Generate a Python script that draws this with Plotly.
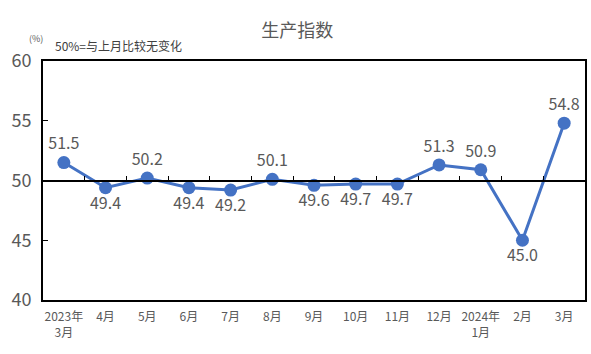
import plotly.graph_objects as go

months = ["2023年<br>3月", "4月", "5月", "6月", "7月", "8月", "9月", "10月", "11月", "12月",
          "2024年<br>1月", "2月", "3月"]
values = [51.5, 49.4, 50.2, 49.4, 49.2, 50.1, 49.6, 49.7, 49.7, 51.3, 50.9, 45.0, 54.8]
labels = ["51.5", "49.4", "50.2", "49.4", "49.2", "50.1", "49.6", "49.7", "49.7", "51.3", "50.9", "45.0", "54.8"]
label_pos = ["top center", "bottom center", "top center", "bottom center", "bottom center",
             "top center", "bottom center", "bottom center", "bottom center", "top center",
             "top center", "bottom center", "top center"]
y_ticks = [40, 45, 50, 55, 60]

FONT = "Noto Sans CJK SC, Noto Sans, sans-serif"
GRAY = "#595959"
BLUE = "#4472C4"

fig = go.Figure()
fig.add_trace(go.Scatter(
    x=months, y=values, mode="lines+markers+text",
    line=dict(color=BLUE, width=3),
    marker=dict(color=BLUE, size=13),
    text=labels, textposition=label_pos,
    textfont=dict(family=FONT, size=16, color=GRAY),
    cliponaxis=False, hoverinfo="skip", showlegend=False,
))
# invisible trace to anchor the 50-line axis
fig.add_trace(go.Scatter(
    x=months, y=values, xaxis="x2", mode="markers",
    marker=dict(opacity=0), hoverinfo="skip", showlegend=False,
))

fig.update_layout(
    width=591, height=354,
    margin=dict(l=43, r=4, t=61, b=54),
    paper_bgcolor="white", plot_bgcolor="white",
    font=dict(family=FONT, color=GRAY),
    title=dict(text="生产指数", x=0.503, xanchor="center", y=0.912, yanchor="middle",
               font=dict(family=FONT, size=18, color=GRAY)),
    xaxis=dict(
        type="category", categoryorder="array", categoryarray=months,
        range=[-0.5, len(months) - 0.5],
        showline=True, mirror=True, linecolor="black", linewidth=2,
        ticks="", showgrid=False, zeroline=False,
        tickfont=dict(family=FONT, size=12, color=GRAY),
        tickangle=0, ticklabelstandoff=5,
    ),
    xaxis2=dict(
        type="category", categoryorder="array", categoryarray=months,
        range=[-0.5, len(months) - 0.5],
        overlaying="x", anchor="free", position=0.5, side="bottom",
        showline=True, linecolor="black", linewidth=2,
        ticks="inside", ticklen=4, tickwidth=1, tickcolor="black",
        tickson="boundaries", showticklabels=False, showgrid=False, zeroline=False,
    ),
    yaxis=dict(
        range=[40, 60], tickvals=y_ticks, ticktext=[str(v) for v in y_ticks],
        showline=True, mirror=True, linecolor="black", linewidth=2,
        ticks="inside", ticklen=5, tickcolor="black", tickwidth=1,
        showgrid=False, zeroline=False,
        tickfont=dict(family=FONT, size=18, color=GRAY),
        ticklabelstandoff=6,
    ),
    annotations=[
        dict(text="(%)", xref="paper", yref="paper", x=-0.012, y=1.095,
             xanchor="center", yanchor="middle", showarrow=False,
             font=dict(family=FONT, size=9, color=GRAY)),
        dict(text="50%=与上月比较无变化", xref="paper", yref="paper", x=0.018, y=1.065,
             xanchor="left", yanchor="middle", showarrow=False,
             font=dict(family=FONT, size=12, color="#404040")),
    ],
)

fig.write_html("out.html")
